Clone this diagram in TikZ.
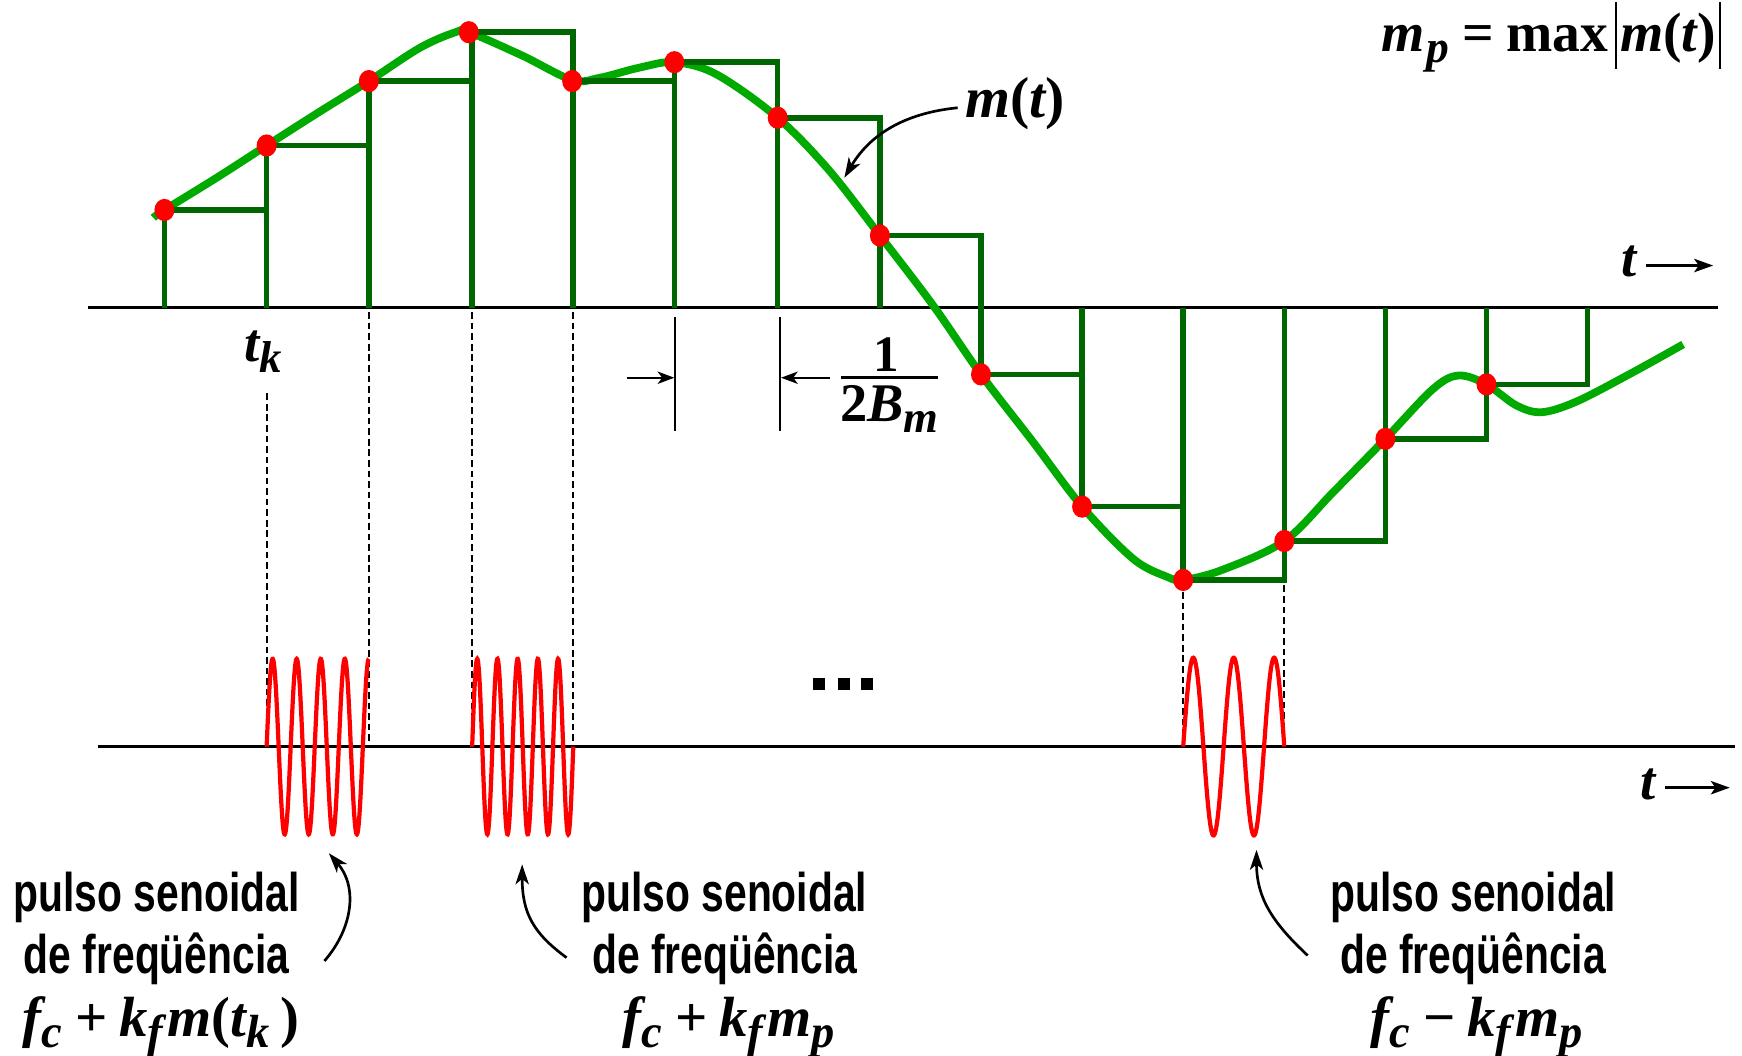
\documentclass[tikz,border=0pt]{standalone}
\usepackage{fontspec}
\usepackage{graphicx}
\usetikzlibrary{arrows.meta}
\newfontfamily\condsans[FakeStretch=0.75]{Liberation Sans}
\newfontfamily\tms{Liberation Serif}
\newcommand{\bi}{\tms\bfseries\itshape}
\newcommand{\bu}{\tms\bfseries\upshape}
\newcommand{\lsub}[1]{\raisebox{-0.2em}{\scalebox{0.82}{#1}}}
\definecolor{dkgreen}{RGB}{0,102,0}
\definecolor{ltgreen}{RGB}{0,170,0}
\begin{document}
\begin{tikzpicture}[x=1pt,y=-1pt,
  stepline/.style={draw=dkgreen, line width=5pt, line join=miter},
  sig/.style={draw=ltgreen, line width=7pt},
  axisline/.style={draw=black, line width=2.6pt},
  guide/.style={draw=black, line width=1.7pt, dash pattern=on 6pt off 3.5pt},
  pulse/.style={draw=red, line width=3.8pt},
  arr/.style={draw=black, line width=2.4pt, -{Stealth[length=18pt,width=12pt,inset=5pt]}},
  lbl/.style={font=\fontsize{49}{55}\selectfont\condsans\bfseries, inner sep=0pt},
  mtxt/.style={font=\fontsize{49}{55}\selectfont\bi, inner sep=0pt}]
\useasboundingbox (0,0) rectangle (1568,950);

% axes
\draw[axisline] (79,277) -- (1546,277);
\draw[axisline] (88,672) -- (1562,672);

% message signal m(t)
\draw[sig] plot[smooth, tension=0.55] coordinates {
 (138,196) (148,189) (195,160) (240,131) (287,101) (332,73) (378,43) (410,29) (422,29)
 (470,50) (515,72) (540,70) (575,61) (607,56) (645,67) (700,106) (746,153)
 (792,212) (840,275) (883,337) (930,398) (974,456) (1020,503) (1050,519) (1065,522)
 (1100,513) (1156,487) (1200,443) (1247,395) (1290,350) (1313,338) (1338,346)
 (1365,365) (1388,371) (1420,361) (1470,335) (1515,310)};

% sample-and-hold steps
\foreach \xa/\xb/\yv in {148/240/189, 240/332/131, 332/425/73, 425/516/29, 516/607/73,
  607/700/56, 700/792/106, 792/883/212, 883/974/337, 974/1065/456, 1065/1156/522,
  1156/1247/487, 1247/1338/395, 1338/1429/346}
  \draw[stepline] (\xa,277) -- (\xa,\yv) -- (\xb,\yv) -- (\xb,277);

% sample dots
\foreach \xa/\yv in {148/189, 240/131, 332/73, 422/29, 515/73, 607/56, 700/106, 792/212,
  883/337, 974/456, 1065/522, 1156/487, 1247/395, 1338/346}
  \fill[red] (\xa,\yv) ellipse [x radius=9, y radius=10];

% dashed guides
\draw[guide] (240,354) -- (240,672);
\foreach \xg in {332,425,516}
  \draw[guide] (\xg,281) -- (\xg,672);
\draw[guide] (1065,533) -- (1065,672);
\draw[guide] (1156,527) -- (1156,672);

% sinusoidal pulses
\draw[pulse] plot[domain=0:92, samples=300] ({240+\x}, {672-79*sin(\x*16.628)});
\draw[pulse] plot[domain=0:91, samples=300] ({425+\x}, {672-79*sin(\x*19.78)});
\draw[pulse] plot[domain=0:91, samples=200] ({1065+\x}, {672-80*sin(\x*9.890)});

% ellipsis
\fill (732,610) rectangle (743,621);
\fill (754,610) rectangle (765,621);
\fill (775,610) rectangle (786,621);

% 1/(2B_m) interval marker
\coordinate (ma) at (608,285); \coordinate (mab) at (608,388);
\coordinate (mb) at (702,285); \coordinate (mbb) at (702,388);
\draw[black, line width=1.8pt] (ma) -- (mab);
\draw[black, line width=1.8pt] (mb) -- (mbb);
\coordinate (ra) at (564,340); \coordinate (rah) at (607,340);
\coordinate (rb) at (747,340); \coordinate (rbh) at (703,340);
\draw[black, line width=2.2pt, -{Stealth[length=15pt,width=11pt,inset=4pt]}] (ra) -- (rah);
\draw[black, line width=2.2pt, -{Stealth[length=15pt,width=11pt,inset=4pt]}] (rb) -- (rbh);
\node[mtxt, anchor=base, font=\fontsize{46}{52}\selectfont\bu] (one) at (798,334.5) {1};
\draw[black, line width=2.6pt] (757,340) -- (844,340);
\node[mtxt, anchor=base west] (twob) at (756,379.5) {{\bu 2}B\lsub{m}};

% labels in the signal plot
\node[mtxt, anchor=base] (tk) at (237,325.5) {t\lsub{k}};
\node[mtxt, anchor=base, font=\fontsize{52}{58}\selectfont\bi] (mt) at (914,105.6) {m{\bu (}t{\bu )}};
\coordinate (mtt) at (862,97);
\coordinate (mth) at (760,160);
\draw[arr] (mtt) .. controls (822,101) and (786,116) .. (mth);

\node[mtxt, anchor=base west, font=\fontsize{50}{56}\selectfont\bi] (mp) at (1243,46.5)
 {m\hspace{0.03em}\lsub{p}\hspace{0.25em}{\bu =}\hspace{0.22em}{\bu max}\hspace{0.12em}\rule[-0.31em]{1.7pt}{1.2em}\hspace{0.06em}m{\bu (}t{\bu )}\hspace{0.06em}\rule[-0.31em]{1.7pt}{1.2em}};

% t axis labels
\node[mtxt, anchor=base] (tu) at (1466,249) {t};
\coordinate (tua) at (1482,239); \coordinate (tub) at (1542,239);
\draw[black, line width=2.4pt, -{Stealth[length=17pt,width=12pt,inset=4pt]}] (tua) -- (tub);
\node[mtxt, anchor=base] (tl) at (1483,720) {t};
\coordinate (tla) at (1499,709); \coordinate (tlb) at (1557,709);
\draw[black, line width=2.4pt, -{Stealth[length=17pt,width=12pt,inset=4pt]}] (tla) -- (tlb);

% bottom labels
\node[lbl, anchor=base] (la1) at (141,820.5) {pulso senoidal};
\node[lbl, anchor=base] (la2) at (141,876) {de freqüência};
\node[mtxt, anchor=base, font=\fontsize{51}{56}\selectfont\bi] (la3) at (145,933)
 {f\lsub{c}\hspace{0.24em}{\bu +}\hspace{0.2em}k\lsub{f}\hspace{0.08em}m{\bu (}t\lsub{k}\hspace{0.2em}{\bu )}};

\node[lbl, anchor=base] (lb1) at (652,820.5) {pulso senoidal};
\node[lbl, anchor=base] (lb2) at (652.5,876) {de freqüência};
\node[mtxt, anchor=base, font=\fontsize{51}{56}\selectfont\bi] (lb3) at (656,933)
 {f\lsub{c}\hspace{0.24em}{\bu +}\hspace{0.2em}k\lsub{f}\hspace{0.08em}m\lsub{p}};

\node[lbl, anchor=base] (lc1) at (1326,820.5) {pulso senoidal};
\node[lbl, anchor=base] (lc2) at (1326,876) {de freqüência};
\node[mtxt, anchor=base, font=\fontsize{51}{56}\selectfont\bi] (lc3) at (1329,933)
 {f\lsub{c}\hspace{0.24em}{\bu −}\hspace{0.2em}k\lsub{f}\hspace{0.08em}m\lsub{p}};

% pointer arrows
\coordinate (a1t) at (292,865); \coordinate (a1h) at (296,768);
\draw[arr] (a1t) .. controls (318,835) and (322,798) .. (a1h);
\coordinate (a2t) at (510,862); \coordinate (a2h) at (470,778);
\draw[arr] (a2t) .. controls (480,840) and (470,822) .. (a2h);
\coordinate (a3t) at (1177,860); \coordinate (a3h) at (1131,765);
\draw[arr] (a3t) .. controls (1145,830) and (1131,808) .. (a3h);
\end{tikzpicture}
\end{document}
